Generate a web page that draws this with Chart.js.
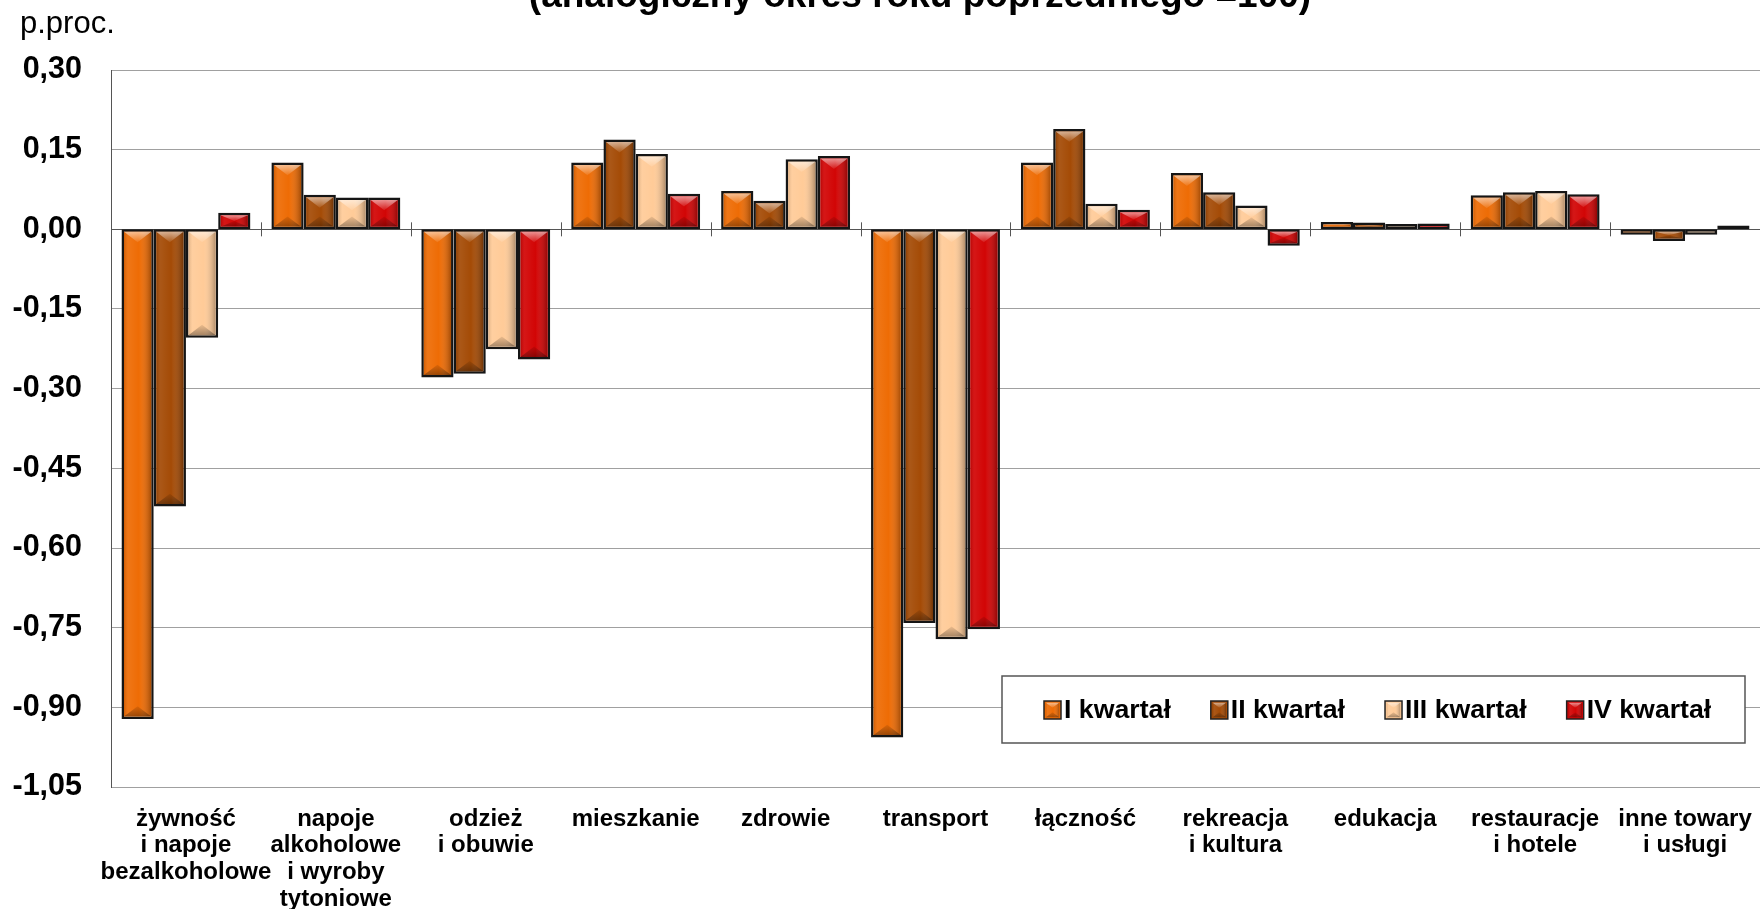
<!DOCTYPE html>
<html>
<head>
<meta charset="utf-8">
<script src="https://cdn.jsdelivr.net/npm/chart.js@4.4.0/dist/chart.umd.min.js"></script>
<style>
html,body{margin:0;padding:0;background:#fff;}
canvas{display:block;}
</style>
</head>
<body>
<canvas id="c" width="1760" height="909"></canvas>
<script>
// ---- data ----
const categories = [
  ["żywność", "i napoje", "bezalkoholowe"],
  ["napoje", "alkoholowe", "i wyroby", "tytoniowe"],
  ["odzież", "i obuwie"],
  "mieszkanie",
  "zdrowie",
  "transport",
  "łączność",
  ["rekreacja", "i kultura"],
  "edukacja",
  ["restauracje", "i hotele"],
  ["inne towary", "i usługi"]
];
const seriesNames = ["I kwartał", "II kwartał", "III kwartał", "IV kwartał"];
const q1 = [-0.922, 0.126, -0.279, 0.126, 0.072, -0.957, 0.126, 0.106, 0.014, 0.064, -0.010];
const q2 = [-0.522, 0.065, -0.272, 0.169, 0.054, -0.741, 0.189, 0.070, 0.013, 0.070, -0.022];
const q3 = [-0.204, 0.060, -0.226, 0.142, 0.132, -0.772, 0.048, 0.045, 0.010, 0.072, -0.010];
const q4 = [0.031, 0.060, -0.245, 0.067, 0.138, -0.753, 0.037, -0.031, 0.011, 0.066, 0.007];
const yMin = -1.05, yMax = 0.30, yStep = 0.15;
const titleText = "(analogiczny okres roku poprzedniego =100)";
const unitText = "p.proc.";

// ---- style ----
const FONT = "'Liberation Sans', Arial, sans-serif";
const colors = ["#EE6C05", "#A44B06", "#FFCB98", "#D20505"];
const seriesData = [q1, q2, q3, q4];

function fmt(v) {
  const r = Math.round(v * 100) / 100;
  return (Object.is(r, -0) ? 0 : r).toFixed(2).replace('.', ',');
}

function drawBevel(ctx, l, t, r, b) {
  const w = r - l, h = b - t;
  if (w <= 0 || h <= 0) return;
  ctx.save();
  ctx.beginPath(); ctx.rect(l, t, w, h); ctx.clip();
  const g = ctx.createLinearGradient(l, 0, r, 0);
  g.addColorStop(0, 'rgba(0,0,0,0.12)');
  g.addColorStop(0.15, 'rgba(255,255,255,0.07)');
  g.addColorStop(0.55, 'rgba(255,255,255,0)');
  g.addColorStop(1, 'rgba(0,0,0,0.30)');
  ctx.fillStyle = g; ctx.fillRect(l, t, w, h);
  const d = Math.min(w * 0.38, h / 2);
  const cx = (l + r) / 2;
  let gt = ctx.createLinearGradient(0, t, 0, t + d);
  gt.addColorStop(0, 'rgba(255,255,255,0.55)');
  gt.addColorStop(1, 'rgba(255,255,255,0.08)');
  ctx.beginPath(); ctx.moveTo(l, t); ctx.lineTo(r, t); ctx.lineTo(cx, t + d); ctx.closePath();
  ctx.fillStyle = gt; ctx.fill();
  let gb = ctx.createLinearGradient(0, b, 0, b - d);
  gb.addColorStop(0, 'rgba(0,0,0,0.35)');
  gb.addColorStop(1, 'rgba(0,0,0,0.08)');
  ctx.beginPath(); ctx.moveTo(l, b); ctx.lineTo(r, b); ctx.lineTo(cx, b - d); ctx.closePath();
  ctx.fillStyle = gb; ctx.fill();
  ctx.restore();
}

const bevelPlugin = {
  id: 'bevel',
  afterDatasetsDraw(chart) {
    const ctx = chart.ctx;
    chart.data.datasets.forEach((ds, i) => {
      const meta = chart.getDatasetMeta(i);
      meta.data.forEach(bar => {
        const p = bar.getProps(['x', 'y', 'base', 'width'], true);
        const bw = 2.5;
        const l = p.x - p.width / 2 + bw, r = p.x + p.width / 2 - bw;
        const t = Math.min(p.y, p.base) + bw, b = Math.max(p.y, p.base) - bw;
        drawBevel(ctx, l, t, r, b);
      });
    });
  }
};

const zeroTicksPlugin = {
  id: 'zeroTicks',
  beforeDatasetsDraw(chart) {
    const ctx = chart.ctx, xs = chart.scales.x, ys = chart.scales.y;
    const y0 = ys.getPixelForValue(0);
    ctx.save();
    ctx.strokeStyle = '#555'; ctx.lineWidth = 1;
    for (let i = 1; i < categories.length; i++) {
      const x = Math.round((xs.getPixelForValue(i - 1) + xs.getPixelForValue(i)) / 2) + 0.5;
      ctx.beginPath(); ctx.moveTo(x, y0 - 7); ctx.lineTo(x, y0 + 7); ctx.stroke();
    }
    ctx.restore();
  }
};

const textPlugin = {
  id: 'texts',
  afterDraw(chart) {
    const ctx = chart.ctx;
    ctx.save();
    ctx.fillStyle = '#000';
    ctx.textBaseline = 'alphabetic';
    ctx.font = "bold 37px " + FONT;
    ctx.textAlign = 'center';
    ctx.fillText(titleText, 920, 7);
    ctx.font = "31px " + FONT;
    ctx.textAlign = 'left';
    ctx.fillText(unitText, 20, 33);
    // legend
    const bx = 1002, by = 676, bwid = 743, bh = 67;
    ctx.fillStyle = '#fff';
    ctx.fillRect(bx, by, bwid, bh);
    ctx.strokeStyle = '#555'; ctx.lineWidth = 1.5;
    ctx.strokeRect(bx, by, bwid, bh);
    ctx.font = "bold 26.7px " + FONT;
    ctx.textBaseline = 'middle';
    ctx.textAlign = 'left';
    let x = 1044;
    const cy = 710;
    chart.data.datasets.forEach(ds => {
      ctx.fillStyle = ds.backgroundColor;
      ctx.fillRect(x, cy - 9, 17, 18);
      drawBevel(ctx, x + 1.5, cy - 7.5, x + 15.5, cy + 7.5);
      ctx.strokeStyle = '#222'; ctx.lineWidth = 1.5;
      ctx.strokeRect(x, cy - 9, 17, 18);
      ctx.fillStyle = '#000';
      ctx.fillText(ds.label, x + 20, cy + 1);
      x += 20 + ctx.measureText(ds.label).width + 40;
    });
    ctx.restore();
  }
};

new Chart(document.getElementById('c'), {
  type: 'bar',
  data: {
    labels: categories,
    datasets: seriesNames.map((name, i) => ({
      label: name,
      data: seriesData[i],
      backgroundColor: colors[i],
      borderColor: '#151515',
      borderWidth: 2.5,
      borderSkipped: false,
      categoryPercentage: 0.86,
      barPercentage: 1.0
    }))
  },
  options: {
    responsive: false,
    animation: false,
    devicePixelRatio: 1,
    layout: { padding: { top: 70, left: 0, right: 0, bottom: 0 } },
    plugins: { legend: { display: false }, tooltip: { enabled: false }, title: { display: false } },
    scales: {
      x: {
        grid: { display: false, drawTicks: false },
        border: { display: false },
        ticks: {
          color: '#000',
          font: { family: FONT, weight: 'bold', size: 24, lineHeight: 1.115 },
          padding: 18.5,
          maxRotation: 0, minRotation: 0, autoSkip: false
        },
        afterFit(s) { s.height = 122; s.paddingLeft = 0; s.paddingRight = 0; }
      },
      y: {
        min: yMin, max: yMax,
        ticks: {
          stepSize: yStep,
          color: '#000',
          font: { family: FONT, weight: 'bold', size: 30.5 },
          padding: 29,
          callback: v => fmt(v)
        },
        grid: {
          drawTicks: false,
          color: c => (Math.abs(c.tick.value) < 1e-9 ? '#555' : '#a0a0a0'),
          lineWidth: 1
        },
        border: { display: true, color: '#555', width: 1 },
        afterFit(s) { s.width = 111; s.paddingTop = 0; s.paddingBottom = 0; }
      }
    }
  },
  plugins: [zeroTicksPlugin, bevelPlugin, textPlugin]
});
</script>
</body>
</html>
